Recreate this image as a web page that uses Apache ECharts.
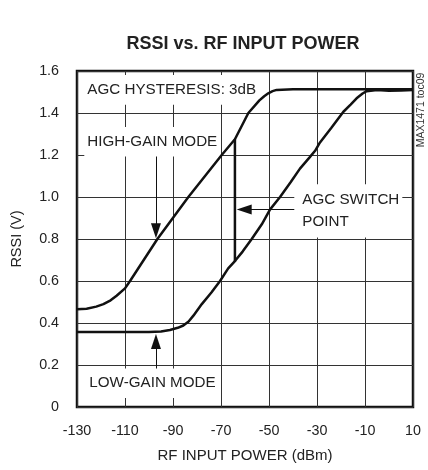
<!DOCTYPE html>
<html>
<head>
<meta charset="utf-8">
<script src="https://cdn.jsdelivr.net/npm/echarts@6/dist/echarts.min.js"></script>
<style>
  html, body { margin: 0; padding: 0; background: #fff; }
  #chart { width: 428px; height: 470px; }
</style>
</head>
<body>
<div id="chart"></div>
<script>
// ---- data ----
const xTicks = [-130, -110, -90, -70, -50, -30, -10, 10];
const yTicks = [0, 0.2, 0.4, 0.6, 0.8, 1.0, 1.2, 1.4, 1.6];

const highGainX = [-130, -126, -122, -119, -116, -113.5, -110, -107.9, -96.5, -83.6, -69.7, -64.2, -58.6, -54, -52, -50.3, -48.5, -46.8, -40, -20, 10];
const highGainY = [0.465, 0.468, 0.478, 0.49, 0.508, 0.53, 0.565, 0.6, 0.8, 1.0, 1.2, 1.275, 1.4, 1.46, 1.48, 1.494, 1.504, 1.51, 1.513, 1.513, 1.513];

const lowGainX = [-130, -100, -95, -91.3, -88, -85.7, -83.5, -81.5, -78, -74, -70.4, -67, -64.2, -61, -57.2, -53, -49.6, -45.4, -41, -37.1, -33, -30.8, -28.75, -24, -19, -16, -13.5, -11, -9.3, -5, 0, 5, 10];
const lowGainY = [0.357, 0.357, 0.36, 0.367, 0.377, 0.388, 0.407, 0.435, 0.49, 0.545, 0.6, 0.66, 0.695, 0.74, 0.80, 0.87, 0.94, 1.0, 1.07, 1.135, 1.19, 1.22, 1.26, 1.33, 1.406, 1.44, 1.47, 1.493, 1.504, 1.51, 1.506, 1.507, 1.51];

const switchX = [-64.2, -64.2];
const switchY = [1.275, 0.69];

const titleText = 'RSSI vs. RF INPUT POWER';
const xName = 'RF INPUT POWER (dBm)';
const yName = 'RSSI (V)';
const noteTexts = ['AGC HYSTERESIS: 3dB', 'HIGH-GAIN MODE', 'LOW-GAIN MODE', 'AGC SWITCH\nPOINT'];
const sideText = 'MAX1471 toc09';

// ---- build ----
const FONT = 'Liberation Sans, Arial, sans-serif';
const zip = (xs, ys) => xs.map((x, i) => [x, ys[i]]);

const noteAnchors = [
  { coord: [-126.96, 1.51], pad: [4, 2, 4, 3] },
  { coord: [-126.96, 1.263], pad: [4, 3, 4, 3] },
  { coord: [-126.1, 0.113], pad: [4, 3, 4, 3] },
  { coord: [-39.46, 0.934], pad: [5, 3, 5, 8] }
];

const arrows = [
  [[-97.1, 1.21], [-97.1, 0.839]],
  [[-97.1, 0.167], [-97.1, 0.312]],
  [[-38.75, 0.9405], [-60.33, 0.9405]]
];

const chart = echarts.init(document.getElementById('chart'), null, { renderer: 'canvas' });

const curveStyle = { color: '#111', width: 2.5 };

chart.setOption({
  animation: false,
  backgroundColor: '#fff',
  textStyle: { fontFamily: FONT },
  graphic: [
    {
      type: 'text', x: 243, y: 44,
      style: { text: titleText, fontFamily: FONT, fontSize: 18, fontWeight: 'bold', fill: '#222',
               align: 'center', verticalAlign: 'middle', textAlign: 'center', textVerticalAlign: 'middle' }
    },
    {
      type: 'text', x: 421, y: 110, rotation: Math.PI / 2,
      style: { text: sideText, fontFamily: FONT, fontSize: 10.5, fill: '#333',
               align: 'center', verticalAlign: 'middle', textAlign: 'center', textVerticalAlign: 'middle' }
    }
  ],
  grid: {
    left: 77, right: 15, top: 71, bottom: 63,
    show: true, borderColor: '#111', borderWidth: 2.5, backgroundColor: 'transparent'
  },
  xAxis: {
    type: 'value',
    min: xTicks[0], max: xTicks[xTicks.length - 1], interval: xTicks[1] - xTicks[0],
    name: xName, nameLocation: 'middle', nameGap: 41,
    nameTextStyle: { fontSize: 15, color: '#222', fontFamily: FONT },
    axisLine: { show: false }, axisTick: { show: false },
    axisLabel: { fontSize: 14.3, color: '#222', margin: 17, fontFamily: FONT },
    splitLine: { show: true, lineStyle: { color: '#333', width: 1 } }
  },
  yAxis: {
    type: 'value',
    min: yTicks[0], max: yTicks[yTicks.length - 1], interval: yTicks[1] - yTicks[0],
    name: yName, nameLocation: 'middle', nameGap: 53, nameRotate: 90,
    nameTextStyle: { fontSize: 14.5, color: '#222', fontFamily: FONT },
    axisLine: { show: false }, axisTick: { show: false },
    axisLabel: { fontSize: 14.3, color: '#222', margin: 18, fontFamily: FONT,
                 formatter: v => (v === 0 ? '0' : v.toFixed(1)) },
    splitLine: { show: true, lineStyle: { color: '#333', width: 1 } }
  },
  series: [
    {
      name: 'annotations', type: 'line', data: [], silent: true, z: 2,
      markLine: {
        silent: true, animation: false, z: 2,
        symbol: ['none', 'triangle'], symbolSize: [10, 15],
        label: { show: false },
        lineStyle: { color: '#111', width: 1, type: 'solid' },
        emphasis: { disabled: true },
        data: arrows.map(a => [{ coord: a[0] }, { coord: a[1] }])
      },
      markPoint: {
        silent: true, animation: false, z: 2,
        symbol: 'circle', symbolSize: 0,
        data: noteTexts.map((t, i) => ({
          coord: noteAnchors[i].coord,
          label: {
            show: true, formatter: t, position: 'right', distance: 0,
            fontSize: 15.2, color: '#222', fontFamily: FONT,
            backgroundColor: '#fff', padding: noteAnchors[i].pad, lineHeight: 21.7
          }
        }))
      }
    },
    {
      name: 'High-gain mode', type: 'line', data: zip(highGainX, highGainY),
      showSymbol: false, symbol: 'none', lineStyle: curveStyle, silent: true, z: 6
    },
    {
      name: 'Low-gain mode', type: 'line', data: zip(lowGainX, lowGainY),
      showSymbol: false, symbol: 'none', lineStyle: curveStyle, silent: true, z: 6
    },
    {
      name: 'AGC switch point', type: 'line', data: zip(switchX, switchY),
      showSymbol: false, symbol: 'none', lineStyle: curveStyle, silent: true, z: 6
    }
  ]
});
</script>
</body>
</html>
